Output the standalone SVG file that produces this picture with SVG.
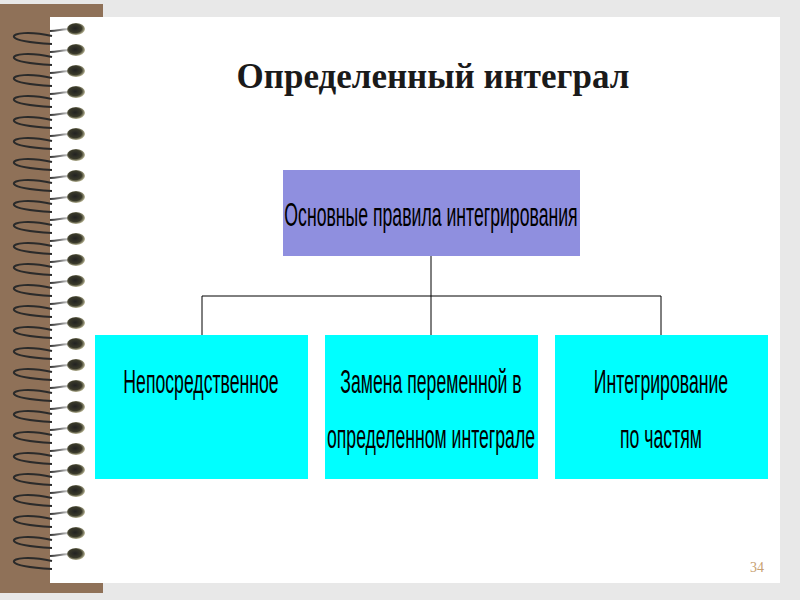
<svg xmlns="http://www.w3.org/2000/svg" xmlns:xlink="http://www.w3.org/1999/xlink" width="800" height="600" viewBox="0 0 800 600">
<style>
.t{font-family:"Liberation Sans",Arial,sans-serif;font-size:33px;fill:#000;text-anchor:middle}
.ln{stroke:#000;stroke-width:1;fill:none}
</style>
<defs>
<linearGradient id="wire" x1="0" x2="1">
<stop offset="0" stop-color="#333"/><stop offset="0.6" stop-color="#888"/><stop offset="1" stop-color="#ddd"/>
</linearGradient>
<radialGradient id="hole" cx="0.45" cy="0.45" r="0.6">
<stop offset="0" stop-color="#222"/><stop offset="0.6" stop-color="#3a3a2a"/><stop offset="1" stop-color="#d8d4b0"/>
</radialGradient>
<g id="ring">
<path d="M52 5 C30 0 12 2 14 6 C16 10 35 12 52 13" stroke="#2a2a2a" stroke-width="2" fill="none"/>
<path d="M50 0 C60 -1 66 -2 70 -2" stroke="url(#wire)" stroke-width="2" fill="none"/>
<ellipse cx="76" cy="-2" rx="9" ry="6" fill="url(#hole)"/>
</g>
</defs>
<rect width="800" height="600" fill="#e8e8e8"/>
<rect x="0" y="4" width="103" height="589" fill="#8f7158"/>
<rect x="50" y="17" width="730" height="566" fill="#fff"/>
<g id="spiral">
<use xlink:href="#ring" y="31"/><use xlink:href="#ring" y="52"/><use xlink:href="#ring" y="73"/><use xlink:href="#ring" y="94"/>
<use xlink:href="#ring" y="115"/><use xlink:href="#ring" y="136"/><use xlink:href="#ring" y="157"/><use xlink:href="#ring" y="178"/>
<use xlink:href="#ring" y="199"/><use xlink:href="#ring" y="220"/><use xlink:href="#ring" y="241"/><use xlink:href="#ring" y="262"/>
<use xlink:href="#ring" y="283"/><use xlink:href="#ring" y="304"/><use xlink:href="#ring" y="325"/><use xlink:href="#ring" y="346"/>
<use xlink:href="#ring" y="367"/><use xlink:href="#ring" y="388"/><use xlink:href="#ring" y="409"/><use xlink:href="#ring" y="430"/>
<use xlink:href="#ring" y="451"/><use xlink:href="#ring" y="472"/><use xlink:href="#ring" y="493"/><use xlink:href="#ring" y="514"/>
<use xlink:href="#ring" y="535"/><use xlink:href="#ring" y="556"/>
</g>
<text x="433" y="88" font-family="Liberation Serif,serif" font-weight="bold" font-size="35" text-anchor="middle" fill="#1a1a1a">Определенный интеграл</text>
<g id="connectors">
<path class="ln" d="M431 256V296M202 296H661M202 296V335M431 296V335M661 296V335"/>
</g>
<g id="n0"><rect x="283" y="170" width="297" height="86" fill="#8f8fdf"/>
<text class="t" transform="translate(431,226) scale(0.535,1)">Основные правила интегрирования</text></g>
<g id="n1"><rect x="95" y="335" width="213" height="144" fill="#00ffff"/>
<text class="t" transform="translate(201,393) scale(0.535,1)">Непосредственное</text></g>
<g id="n2"><rect x="325" y="335" width="213" height="144" fill="#00ffff"/>
<text class="t" transform="translate(431,393) scale(0.535,1)">Замена переменной в</text>
<text class="t" transform="translate(431,448) scale(0.535,1)">определенном интеграле</text></g>
<g id="n3"><rect x="555" y="335" width="213" height="144" fill="#00ffff"/>
<text class="t" transform="translate(661,393) scale(0.535,1)">Интегрирование</text>
<text class="t" transform="translate(661,448) scale(0.535,1)">по частям</text></g>
<text x="757" y="572" font-family="Liberation Serif,serif" font-size="14" text-anchor="middle" fill="#c8a070">34</text>
</svg>
